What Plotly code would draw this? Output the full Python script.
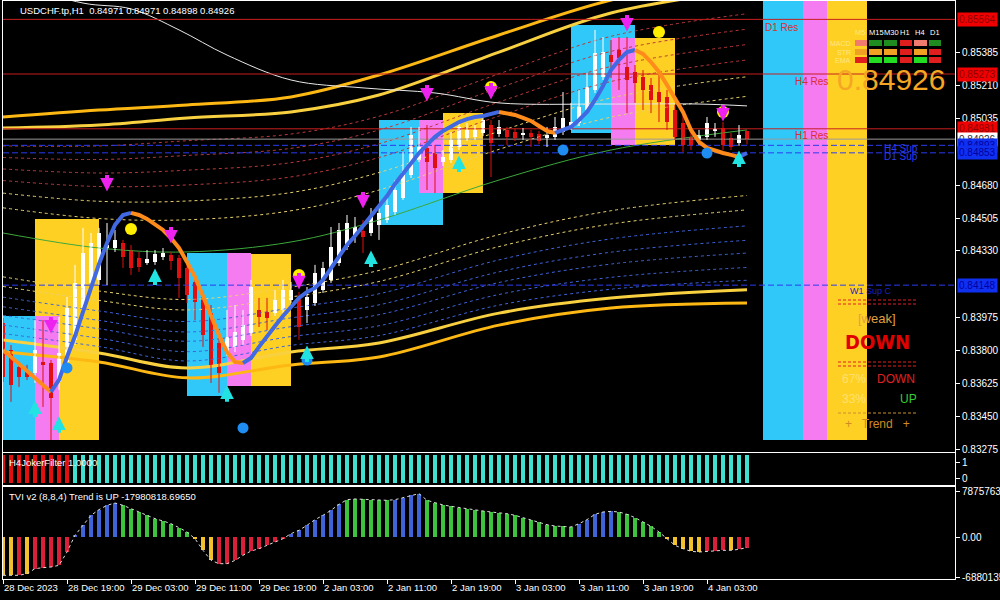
import plotly.graph_objects as go
from plotly.subplots import make_subplots

# ------------------------------------------------------------------ data
TITLE = "USDCHF.tp,H1  0.84971 0.84971 0.84898 0.84926"
TICK_IDX = [0, 8, 16, 24, 32, 40, 48, 56, 64, 72, 80, 88]
TICK_TXT = ["28 Dec 2023", "28 Dec 19:00", "29 Dec 03:00", "29 Dec 11:00", "29 Dec 19:00",
            "2 Jan 03:00", "2 Jan 11:00", "2 Jan 19:00", "3 Jan 03:00", "3 Jan 11:00",
            "3 Jan 19:00", "4 Jan 03:00"]
PRICE_TICKS = [0.85385, 0.85210, 0.85035, 0.84680, 0.84505, 0.84330,
               0.83975, 0.83800, 0.83625, 0.83450, 0.83275]

OPEN = [.83946, .83803, .83712, .83685, .83680, .83739, .83733, .83632, .83739, .83856,
        .84016, .84160, .84176, .84346, .84346, .84373, .84335, .84293, .84266, .84272,
        .84298, .84309, .84293, .84240, .84165, .84085, .84000, .83840, .83792, .83819,
        .83856, .83893, .84016, .84005, .84000, .84016, .84069, .84080, .84016, .84053,
        .84122, .84176, .84266, .84351, .84415, .84437, .84426, .84469, .84495, .84538,
        .84613, .84735, .84815, .84879, .84852, .84804, .84815, .84884, .84932, .84938,
        .84959, .85001, .84954, .84975, .84964, .84948, .84959, .84954, .84932, .84938,
        .84964, .84991, .85012, .85081, .85188, .85257, .85374, .85401, .85310, .85284,
        .85257, .85214, .85177, .85151, .85081, .85012, .84938, .84922, .84938, .84970,
        .84985, .84932, .84906, .84971]
HIGH = [.83973, .83829, .83739, .83723, .83962, .83962, .83749, .83978, .84085, .84256,
        .84453, .84426, .84453, .84479, .84442, .84389, .84362, .84325, .84335, .84335,
        .84346, .84325, .84309, .84261, .84186, .84112, .84042, .83882, .84016, .84042,
        .84016, .84176, .84080, .84080, .84122, .84176, .84165, .84112, .84138, .84256,
        .84272, .84458, .84479, .84522, .84511, .84495, .84559, .84564, .84628, .84708,
        .84858, .84991, .84991, .85001, .84895, .84868, .84964, .85028, .85012, .85001,
        .85055, .85028, .85028, .84991, .84985, .84985, .84975, .84970, .84991, .85044,
        .85177, .85119, .85188, .85278, .85508, .85470, .85454, .85470, .85470, .85321,
        .85294, .85252, .85294, .85188, .85108, .85055, .84975, .84975, .85044, .85012,
        .85017, .84959, .85001, .84971]
LOW = [.83632, .83526, .83606, .83643, .83627, .83499, .83323, .83590, .83723, .83829,
       .83989, .84122, .84149, .84149, .84325, .84240, .84202, .84218, .84256, .84256,
       .84282, .84229, .84080, .84053, .83962, .83819, .83627, .83574, .83771, .83792,
       .83829, .83877, .83925, .83909, .83984, .84000, .84053, .83856, .83946, .84037,
       .84106, .84160, .84250, .84335, .84373, .84319, .84410, .84389, .84479, .84522,
       .84602, .84719, .84804, .84655, .84639, .84783, .84799, .84868, .84916, .84922,
       .84943, .84724, .84938, .84895, .84916, .84922, .84884, .84900, .84884, .84922,
       .84948, .84975, .84996, .85065, .85172, .85241, .85252, .85188, .85065, .85119,
       .85081, .85065, .85017, .84975, .84922, .84858, .84868, .84895, .84922, .84938,
       .84868, .84868, .84890, .84898]
CLOSE = [.83659, .83616, .83659, .83659, .83803, .83723, .83547, .83787, .84026, .84160,
         .84319, .84373, .84426, .84362, .84389, .84298, .84240, .84245, .84288, .84314,
         .84319, .84277, .84186, .84096, .84058, .83882, .83712, .83680, .83872, .83898,
         .83936, .84138, .83978, .83973, .84069, .84122, .84122, .83925, .84085, .84213,
         .84240, .84351, .84442, .84479, .84458, .84405, .84522, .84533, .84575, .84655,
         .84751, .84948, .84884, .84804, .84772, .84831, .84922, .84991, .84975, .84975,
         .85028, .84906, .84991, .84938, .84932, .84959, .84938, .84916, .84948, .84991,
         .85039, .85017, .85097, .85204, .85385, .85390, .85337, .85358, .85241, .85225,
         .85188, .85135, .85124, .85017, .84938, .84895, .84895, .84948, .85012, .84980,
         .84895, .84884, .84948, .84926]

# smoothed trend line (blue rising / orange falling)
HMA = [.83803, .83765, .83728, .83691, .83654, .83616, .83579, .83643, .83765, .83877,
       .84005, .84138, .84261, .84373, .84469, .84522, .84533, .84522, .84501, .84469,
       .84442, .84399, .84346, .84272, .84192, .84090, .83984, .83882, .83792, .83739,
       .83733, .83760, .83819, .83877, .83930, .83984, .84032, .84080, .84112, .84133,
       .84176, .84240, .84303, .84362, .84410, .84463, .84517, .84570, .84623, .84687,
       .84740, .84799, .84852, .84895, .84938, .84970, .84996, .85017, .85033, .85044,
       .85049, .85060, .85071, .85065, .85055, .85039, .85023, .84996, .84970, .84959,
       .84975, .84991, .85028, .85071, .85135, .85209, .85294, .85348, .85390, .85401,
       .85380, .85337, .85284, .85214, .85145, .85071, .84975, .84911, .84879, .84863,
       .84852, .84842, .84831, .84852]

# long moving average (white)
MA_LONG_IDX = [0, 10, 16, 22, 28, 36, 45, 54, 62, 75, 87, 93]
MA_LONG = [0.85774, 0.85651, 0.85620, 0.85508, 0.85374, 0.85241, 0.85199, 0.85172,
           0.85119, 0.85113, 0.85113, 0.85103]

# envelope: middle line (green) and half-widths of the bands above / below it
BAND_IDX = [0, 12, 23, 36, 47, 62, 76, 93]
BAND_MID = [0.84426, 0.84346, 0.84325, 0.84378, 0.84495, 0.84708, 0.84868, 0.84975]
UP_IN = [0.00559, 0.00655, 0.00714, 0.00693, 0.00666, 0.00682, 0.00730, 0.00746]
UP_OUT = [0.00618, 0.00735, 0.00783, 0.00773, 0.00773, 0.00773, 0.00799, 0.00826]
DN_IN = [0.00570, 0.00559, 0.00618, 0.00586, 0.00655, 0.00709, 0.00789, 0.00852]
DN_OUT = [0.00634, 0.00607, 0.00671, 0.00655, 0.00730, 0.00773, 0.00842, 0.00922]
UP_LEVELS = [0.24, 0.38, 0.50, 0.61, 0.72, 0.83]
UP_LEVEL_KIND = ["y", "y", "r", "r", "r", "r"]
DN_LEVELS = [0.41, 0.50, 0.60, 0.69, 0.77, 0.86, 0.94]
DN_LEVEL_KIND = ["y", "y", "b", "b", "b", "b", "b"]

# coloured zones: (from bar, to bar, top price, bottom price, kind)
ZONES = [
    (4, 12, 0.84501, 0.83323, "gold"), (0, 4, 0.83984, 0.83323, "cyan"), (4, 7, 0.83984, 0.83323, "pink"),
    (23, 28, 0.84319, 0.83558, "cyan"), (28, 31, 0.84319, 0.83611, "pink"), (31, 36, 0.84314, 0.83611, "gold"),
    (47, 55, 0.85028, 0.84469, "cyan"), (52, 55, 0.85028, 0.84639, "pink"), (55, 60, 0.85065, 0.84639, "gold"),
    (71, 79, 0.85534, 0.84959, "cyan"), (76, 79, 0.85465, 0.84895, "pink"), (79, 84, 0.85465, 0.84895, "gold"),
    (95, 100, 0.85662, 0.83323, "cyan"), (100, 103, 0.85662, 0.83323, "pink"), (103, 108, 0.85662, 0.83323, "gold"),
]

# arrow tips (sell arrows point down, buy arrows point up)
SELL_IDX = [6, 13, 21, 37, 45, 53, 61, 78, 90]
SELL_PX = [0.83890, 0.84647, 0.84370, 0.84125, 0.84556, 0.85126, 0.85137, 0.85499, 0.85020]
BUY_IDX = [4, 7, 19, 28, 38, 46, 57, 92]
BUY_PX = [0.83534, 0.83449, 0.84237, 0.83614, 0.83827, 0.84333, 0.84839, 0.84866]
YDOT_IDX = [16, 37, 61, 82, 90]
YDOT_PX = [0.84447, 0.84202, 0.85204, 0.85497, 0.85071]
BDOT_IDX = [8, 30, 38, 70, 88]
BDOT_PX = [0.83707, 0.83387, 0.83749, 0.84868, 0.84852]

RES_NAMES = ["D1 Res", "H4 Res", "H1 Res"]
RES_PX = [0.85564, 0.85273, 0.84981]
SUP_NAMES = ["H4 Sup", "D1 Sup", "W1 Sup C"]
SUP_PX = [0.84893, 0.84853, 0.84148]
BID = 0.84926

JOKER = [0] * 9 + [1] * 85   # 0 = red state, 1 = turquoise state

TVI = [-65.6, -65.6, -65.6, -62.8, -54.2, -52.5, -51.4, -48.5, -25.7, 2.9,
       20.0, 37.1, 46.8, 54.2, 58.2, 54.2, 48.5, 42.8, 37.1, 31.4,
       27.4, 22.8, 16.0, 8.6, -2.9, -22.8, -40.0, -45.7, -45.7, -40.0,
       -31.4, -24.0, -20.0, -14.3, -8.6, -2.9, 5.7, 11.4, 20.0, 29.7,
       37.1, 45.7, 55.9, 63.9, 65.1, 64.5, 63.9, 62.8, 62.8, 63.9,
       67.3, 71.3, 74.2, 62.8, 58.2, 54.8, 52.5, 50.2, 47.9, 45.7,
       44.5, 42.8, 41.7, 39.9, 37.1, 33.1, 29.7, 25.7, 21.1, 18.8,
       18.3, 17.1, 22.8, 29.7, 38.8, 42.8, 43.9, 42.8, 38.8, 33.1,
       25.7, 18.3, 8.6, -2.9, -14.3, -20.0, -24.5, -25.7, -24.5, -24.0,
       -22.8, -22.8, -21.1, -17.98]   # millions
TVI_KIND = list("yyryrrrrr" + "bbbbbb" + "ggggggggg" + "yyy" + "rrrrrrrrr" + "bbbbbbb"
                + "gggggg" + "bbbb" + "g" * 19 + "bbbbb" + "gggggg" + "yyyyy" + "rrr" + "y" + "rr")
TVI_TICKS = [78757636, 0, -68801357]
TVI_TICK_TXT = ["78757636.", "0.00", "-68801357"]

# ------------------------------------------------------------------ styling
BG = "#000000"
FONT = "Liberation Sans, Arial, sans-serif"
ZONE_COL = {"cyan": "#30C8F8", "pink": "#F57BF0", "gold": "#FFD024"}
LVL_COL = {"y": "#E8D070", "r": "#B83A3A", "b": "#3E64D8"}
TVI_COL = {"y": "#F2C12E", "r": "#D8203A", "b": "#3E64D8", "g": "#3CC43C"}

PL, PR, PT, PB = 3, 955, 1, 579  # plot-area pixel box


def px(x):
    return (x - PL) / (PR - PL)


def py(y):
    return (PB - y) / (PB - PT)


N = len(CLOSE)
IDX = list(range(N))

fig = make_subplots(rows=3, cols=1, shared_xaxes=True, vertical_spacing=0.01)

shapes = []
for a, b, top, bot, kind in ZONES:
    shapes.append(dict(type="rect", xref="x", yref="y", x0=a, x1=b, y0=bot, y1=top,
                       fillcolor=ZONE_COL[kind], line=dict(width=0), layer="below"))


def band(widths, frac, sign):
    return [m + sign * frac * w for m, w in zip(BAND_MID, widths)]


for f, k in zip(UP_LEVELS, UP_LEVEL_KIND):
    fig.add_trace(go.Scatter(x=BAND_IDX, y=band(UP_IN, f, 1), mode="lines", line_shape="spline",
                             line=dict(color=LVL_COL[k], width=1, dash="3px,3px"), hoverinfo="skip"), 1, 1)
for f, k in zip(DN_LEVELS, DN_LEVEL_KIND):
    fig.add_trace(go.Scatter(x=BAND_IDX, y=band(DN_IN, f, -1), mode="lines", line_shape="spline",
                             line=dict(color=LVL_COL[k], width=1, dash="3px,3px"), hoverinfo="skip"), 1, 1)
for widths, sign, col in ((UP_IN, 1, "#F8D040"), (UP_OUT, 1, "#FDB813"),
                          (DN_IN, -1, "#F8D040"), (DN_OUT, -1, "#FDB813")):
    fig.add_trace(go.Scatter(x=BAND_IDX, y=band(widths, 1, sign), mode="lines", line_shape="spline",
                             line=dict(color=col, width=3), hoverinfo="skip"), 1, 1)
fig.add_trace(go.Scatter(x=BAND_IDX, y=BAND_MID, mode="lines", line_shape="spline",
                         line=dict(color="#3CA83C", width=1), hoverinfo="skip"), 1, 1)
fig.add_trace(go.Scatter(x=MA_LONG_IDX, y=MA_LONG, mode="lines", line_shape="spline",
                         line=dict(color="#E8E8E8", width=1), hoverinfo="skip"), 1, 1)

for v in RES_PX:
    fig.add_trace(go.Scatter(x=[0, 119], y=[v, v], mode="lines",
                             line=dict(color="#C81E1E", width=1), hoverinfo="skip"), 1, 1)
fig.add_trace(go.Scatter(x=[0, 119], y=[BID, BID], mode="lines",
                         line=dict(color="#9A9A9A", width=1), hoverinfo="skip"), 1, 1)
for v in SUP_PX:
    fig.add_trace(go.Scatter(x=[0, 119], y=[v, v], mode="lines",
                             line=dict(color="#2A3CF0", width=1, dash="6px,3px"), hoverinfo="skip"), 1, 1)

for bull, col in ((True, "#FFFFFF"), (False, "#E01010")):
    wx, wy, bx, bbase, bh = [], [], [], [], []
    for i in IDX:
        if (CLOSE[i] >= OPEN[i]) == bull:
            wx += [i, i, None]
            wy += [LOW[i], HIGH[i], None]
            bx.append(i)
            bbase.append(min(OPEN[i], CLOSE[i]))
            bh.append(max(abs(CLOSE[i] - OPEN[i]), 0.00004))
    fig.add_trace(go.Scatter(x=wx, y=wy, mode="lines", line=dict(color=col, width=1),
                             hoverinfo="skip"), 1, 1)
    fig.add_trace(go.Bar(x=bx, y=bh, base=bbase, width=0.62, marker=dict(color=col, line=dict(width=0)),
                         hoverinfo="skip"), 1, 1)

runs = []
for i in range(1, N):
    up = HMA[i] >= HMA[i - 1]
    if runs and runs[-1][0] == up:
        runs[-1][1].append(i)
    else:
        runs.append([up, [i - 1, i]])
for up, pts in runs:
    fig.add_trace(go.Scatter(x=pts, y=[HMA[i] for i in pts], mode="lines",
                             line=dict(color="#4169E1" if up else "#FF8C1A", width=4),
                             hoverinfo="skip"), 1, 1)

fig.add_trace(go.Scatter(x=YDOT_IDX, y=YDOT_PX, mode="markers",
                         marker=dict(symbol="circle", size=12, color="#FFEE00"), hoverinfo="skip"), 1, 1)
fig.add_trace(go.Scatter(x=BDOT_IDX, y=BDOT_PX, mode="markers",
                         marker=dict(symbol="circle", size=11, color="#1E8CF0"), hoverinfo="skip"), 1, 1)

# JOKER panel
JMIN, JMAX = -0.3125, 1.4375
fig.add_trace(go.Bar(x=IDX, y=[JMAX - JMIN] * N, base=JMIN, width=0.62,
                     marker=dict(color=["#40E0D0" if s else "#E01010" for s in JOKER], line=dict(width=0)),
                     hoverinfo="skip"), 2, 1)

# TVI panel
fig.add_trace(go.Bar(x=IDX, y=[v * 1e6 for v in TVI], width=0.42,
                     marker=dict(color=[TVI_COL[k] for k in TVI_KIND], line=dict(width=0)),
                     hoverinfo="skip"), 3, 1)
fig.add_trace(go.Scatter(x=IDX, y=[v * 1e6 for v in TVI], mode="lines",
                         line=dict(color="#DDDDDD", width=1, dash="dot"), hoverinfo="skip"), 3, 1)

# ------------------------------------------------------------------ annotations
ann = []

for i, v in zip(SELL_IDX, SELL_PX):
    ann.append(dict(xref="x", yref="y", x=i, y=v, ax=0, ay=-18, text="", showarrow=True,
                    arrowhead=2, arrowsize=0.68, arrowwidth=4, arrowcolor="#EE22EE"))
for i, v in zip(BUY_IDX, BUY_PX):
    ann.append(dict(xref="x", yref="y", x=i, y=v, ax=0, ay=18, text="", showarrow=True,
                    arrowhead=2, arrowsize=0.68, arrowwidth=4, arrowcolor="#22E2E2"))


def text(x, y, s, color, size=10, anchor="left", family=FONT):
    ann.append(dict(xref="paper", yref="paper", x=px(x), y=py(y), text=s, showarrow=False,
                    xanchor=anchor, yanchor="middle", font=dict(color=color, size=size, family=family)))


text(18, 10, TITLE, "#FFFFFF", 9.5)
text(763, 27, "D1 Res", "#D83030", 10)
text(793, 81, "H4 Res", "#D83030", 10)
text(793, 135, "H1 Res", "#D83030", 10)
text(882, 148, "H4 Sup", "#2A3CF0", 10)
text(882, 156, "D1 Sup", "#2A3CF0", 10)
text(848, 291, "W1 Sup C", "#1A22C0", 9)

text(860, 33, "M5", "#FFE680", 7.5, "center")
for lbl, cx in zip(["M15", "M30", "H1", "H4", "D1"], [876, 891, 905, 920, 935]):
    text(cx, 33, lbl, "#FFFFFF", 7.5, "center")
for lbl, cy in zip(["MACD", "STR", "EMA"], [43, 52, 60]):
    text(853, cy, lbl, "#FFE680", 7, "right")
MTF_COLORS = [
    ["#F07B6E", "#1E8C1E", "#1E8C1E", "#E01E1E", "#F07B6E", "#1E8C1E"],
    ["#F0A023", "#F0A023", "#F0A023", "#E01E1E", "#F0A023", "#E01E1E"],
    ["#E01E1E", "#22DD22", "#22DD22", "#E01E1E", "#22DD22", "#E01E1E"],
]
cols_x = [(855, 867), (869, 882), (884, 897), (900, 912), (914, 927), (929, 941)]
for r, cy in enumerate([43, 52, 60]):
    for c, (x0, x1) in enumerate(cols_x):
        shapes.append(dict(type="rect", xref="paper", yref="paper", x0=px(x0), x1=px(x1),
                           y0=py(cy + 3), y1=py(cy - 3), fillcolor=MTF_COLORS[r][c],
                           line=dict(width=0), layer="above"))

text(891, 80, "0.84926", "#F5A623", 30, "center")

for yy in (300, 304, 362, 366):
    shapes.append(dict(type="line", xref="paper", yref="paper", x0=px(838), x1=px(916),
                       y0=py(yy), y1=py(yy), line=dict(color="#E02020", width=1, dash="3px,2px"),
                       layer="above"))
shapes.append(dict(type="line", xref="paper", yref="paper", x0=px(838), x1=px(916),
                   y0=py(413), y1=py(413), line=dict(color="#C89030", width=1, dash="3px,2px"),
                   layer="above"))
text(877, 318, "[weak]", "#E0A040", 13, "center")
text(877, 342, "<b>DOWN</b>", "#E00000", 20, "center",
     "DejaVu Sans Condensed, Liberation Sans Narrow, Arial Narrow, sans-serif")
text(840, 379, "67%", "#FFE070", 12)
text(875, 379, "DOWN", "#E02020", 12)
text(840, 399, "33%", "#FFE070", 12)
text(898, 399, "UP", "#30D030", 12)
text(877, 424, "+   Trend   +", "#D08A20", 12, "center")

text(7, 462, "H4JokerFilter 1.0000", "#FFFFFF", 9.5)
text(7, 496, "TVI v2 (8,8,4) Trend is UP -17980818.69650", "#FFFFFF", 9.5)


def price_box(v, bg, fg):
    ann.append(dict(xref="paper", yref="y", x=px(957), y=v, text=f"{v:.5f}", showarrow=False,
                    xanchor="left", yanchor="middle", bgcolor=bg, borderpad=1,
                    font=dict(color=fg, size=10, family=FONT)))


for v in RES_PX:
    price_box(v, "#F00000", "#8C0000")
price_box(BID, "#FFFFFF", "#303030")
for v in SUP_PX:
    price_box(v, "#1030F0", "#0000A0")

# ------------------------------------------------------------------ layout
axis_common = dict(showgrid=False, zeroline=False, showline=True, linecolor="#FFFFFF",
                   linewidth=1, mirror=True, automargin=False)
yfont = dict(size=10, color="#FFFFFF", family=FONT)
fig.update_layout(
    width=1000, height=600, paper_bgcolor=BG, plot_bgcolor=BG, showlegend=False,
    barmode="overlay", bargap=0,
    margin=dict(l=PL, r=1000 - PR, t=PT, b=600 - PB, autoexpand=False),
    font=dict(family=FONT, color="#FFFFFF", size=10),
    shapes=shapes, annotations=ann,
    xaxis=dict(range=[0, 119], showticklabels=False, ticks="", **axis_common),
    xaxis2=dict(range=[0, 119], showticklabels=False, ticks="", **axis_common),
    xaxis3=dict(range=[0, 119], tickvals=TICK_IDX, ticktext=TICK_TXT, ticks="outside",
                ticklen=4, tickcolor="#FFFFFF", ticklabelposition="outside right", tickangle=0,
                tickfont=dict(size=9.5, color="#FFFFFF", family=FONT), **axis_common),
    yaxis=dict(domain=[py(452), 1], range=[0.83259, 0.85662], side="right",
               tickvals=PRICE_TICKS, ticktext=[f"{v:.5f}" for v in PRICE_TICKS],
               ticks="outside", ticklen=4, tickcolor="#FFFFFF", tickfont=yfont, **axis_common),
    yaxis2=dict(domain=[py(485), py(453)], range=[-0.4375, 1.5625], side="right",
                tickvals=[0, 1], ticktext=["0", "1"], ticks="outside", ticklen=4, tickcolor="#FFFFFF",
                tickfont=yfont, **axis_common),
    yaxis3=dict(domain=[0, py(487)], range=[-71.9e6, 85.6e6], side="right",
                tickvals=TVI_TICKS, ticktext=TVI_TICK_TXT, ticks="outside", ticklen=4,
                tickcolor="#FFFFFF", tickfont=yfont, **axis_common),
)

fig.write_html("out.html", config={"displayModeBar": False},
               post_script="document.body.style.margin='0px';")
